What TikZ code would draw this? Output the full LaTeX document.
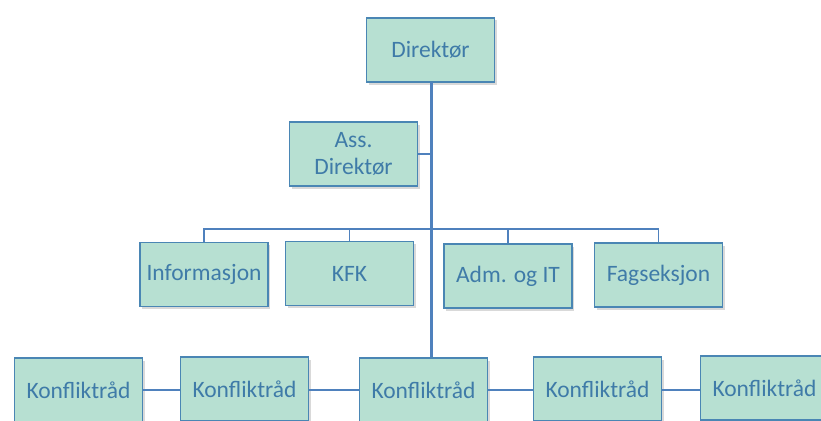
\documentclass[tikz,border=0pt]{standalone}
\usepackage{fontspec}
\setmainfont{Carlito}
\usetikzlibrary{shadows}
\definecolor{boxfill}{HTML}{B7E0D2}
\definecolor{boxline}{HTML}{4A86B4}
\definecolor{txt}{HTML}{3F7BA8}
\definecolor{conn}{HTML}{4F81BD}
\tikzset{
  orgbox/.style={draw=boxline, line width=1.6pt, fill=boxfill, minimum width=128pt, minimum height=64pt, inner sep=0pt, text=txt, align=center, font=\fontsize{23.5}{27}\selectfont, drop shadow={shadow xshift=2pt, shadow yshift=-2.5pt, opacity=0.3}},
  thin/.style={draw=conn, line width=1.6pt},
  thick/.style={draw=conn, line width=3pt}
}
\begin{document}
\begin{tikzpicture}[x=1pt,y=1pt]
\useasboundingbox (0,0) rectangle (821,-420);
\node[orgbox] (dir) at (430.5,-50) {Direktør};
\node[orgbox] (ass) at (353.5,-154) {Ass.\\Direktør};
\node[orgbox] (info) at (204,-274.5) {Informasjon};
\node[orgbox] (kfk) at (349.5,-273.5) {KFK};
\node[orgbox] (adm) at (508,-276) {Adm. og IT};
\node[orgbox] (fag) at (658.5,-275) {Fagseksjon};
\node[orgbox] (k1) at (78.5,-390) {Konfliktråd};
\node[orgbox] (k2) at (244.5,-389) {Konfliktråd};
\node[orgbox] (k3) at (423.5,-390) {Konfliktråd};
\node[orgbox] (k4) at (597.5,-389) {Konfliktråd};
\node[orgbox] (k5) at (764.5,-388) {Konfliktråd};
\coordinate (top) at (431,-82);
\coordinate (bus) at (431,-229);
\coordinate (row) at (0,-390);
\draw[thick] (top) -- (top |- k3.north);
\draw[thin] (ass.east) -- (ass.east -| top);
\draw[thin] (info.north) |- (bus) -| (fag.north);
\draw[thin] (kfk.north) |- (bus);
\draw[thin] (adm.north) |- (bus);
\draw[thin] (k1.east |- row) -- (k2.west |- row);
\draw[thin, line width=2.4pt] (k2.east |- row) -- (k3.west |- row);
\draw[thin, line width=2.4pt] (k3.east |- row) -- (k4.west |- row);
\draw[thin] (k4.east |- row) -- (k5.west |- row);
\end{tikzpicture}
\end{document}
